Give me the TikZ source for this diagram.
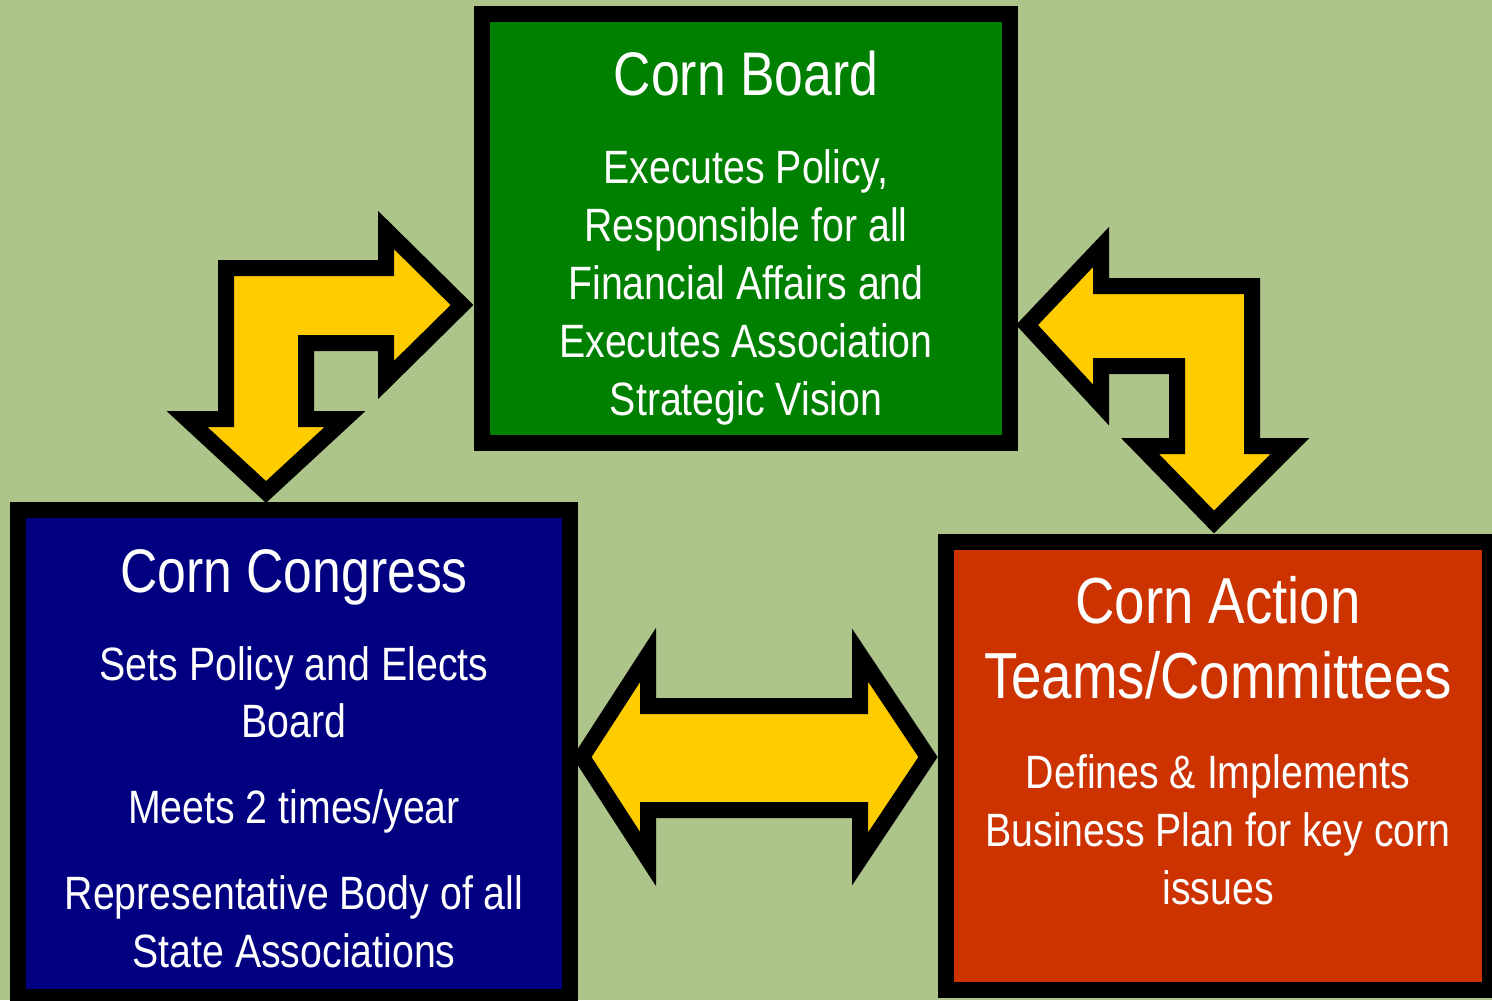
\documentclass[tikz,border=0pt]{standalone}
\usepackage{fontspec}
\setmainfont{Liberation Sans}[FakeStretch=0.84]

\definecolor{fieldgreen}{HTML}{ADC58A}
\definecolor{boardgreen}{HTML}{008000}
\definecolor{congressblue}{HTML}{000080}
\definecolor{actionred}{HTML}{CC3300}
\definecolor{cornyellow}{HTML}{FFCC00}

\begin{document}
\begin{tikzpicture}[x=0.01cm, y=-0.01cm,
    panel/.style={draw=black, line width=0.16cm, inner sep=0pt},
    block arrow/.style={draw=black, fill=cornyellow, line width=0.16cm, line join=miter},
    title/.style={text=white, anchor=base, inner sep=0pt, font=\fontsize{17.5}{21}\selectfont},
    body/.style={text=white, anchor=base, inner sep=0pt, font=\fontsize{13.3}{16}\selectfont}]

    % background
    \fill [fieldgreen] (0,0) rectangle (1492,1000);
    \useasboundingbox (0,0) rectangle (1492,1000);

    % boxes
    \node [panel, fill=boardgreen, minimum width=5.28cm, minimum height=4.29cm] (board) at (746,228.5) {};
    \node [panel, fill=congressblue, minimum width=5.52cm, minimum height=4.87cm] (congress) at (294,753.5) {};
    \node [panel, fill=actionred, minimum width=5.44cm, minimum height=4.48cm] (action) at (1218,766) {};

    % arrows
    \draw [block arrow] (226,268) -- (386,268) -- (386,230) -- (462,305) -- (386,380) -- (386,343)
        -- (306,343) -- (306,419) -- (345,419) -- (266,492) -- (187,419) -- (226,419) -- cycle;
    \draw [block arrow] (1027,325) -- (1101,247) -- (1101,286) -- (1252,286) -- (1252,446) -- (1290,446)
        -- (1214,522) -- (1140,446) -- (1177,446) -- (1177,366) -- (1101,366) -- (1101,405) -- cycle;
    \draw [block arrow] (582,757) -- (648,655) -- (648,706) -- (860,706) -- (860,655) -- (928,757)
        -- (860,859) -- (860,810) -- (648,810) -- (648,859) -- cycle;

    % labels
    \node [title] (board-title) at (746,95) {Corn Board};
    \foreach \l [count=\i] in {{Executes Policy,}, Responsible for all, Financial Affairs and,
        Executes Association, Strategic Vision}
    \node [body] (board-\i) at (746,125+\i*58) {\l};

    \node [title] (congress-title) at (294,592) {Corn Congress};
    \foreach \l/\y [count=\i] in {Sets Policy and Elects/680, Board/737, Meets 2 times\slash year/823,
        Representative Body of all/909, State Associations/967}
    \node [body] (congress-\i) at (294,\y) {\l};

    \node [title, font=\fontsize{18.5}{22}\selectfont] (action-title) at (1218,623) {Corn Action};
    \node [title, font=\fontsize{18.5}{22}\selectfont] (action-title2) at (1218,698) {Teams/Committees};
    \foreach \l [count=\i] in {Defines \& Implements, Business Plan for key corn, issues}
    \node [body] (action-\i) at (1218,730+\i*58) {\l};

\end{tikzpicture}
\end{document}
